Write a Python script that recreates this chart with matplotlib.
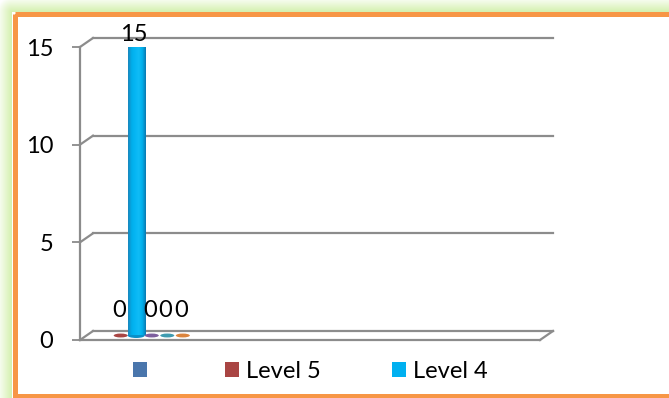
import numpy as np
import matplotlib.pyplot as plt
from matplotlib.patches import Rectangle, Ellipse
from matplotlib.colors import LinearSegmentedColormap
from matplotlib.transforms import ScaledTranslation, IdentityTransform
from matplotlib.lines import Line2D

plt.rcParams['font.family'] = ['Lato', 'DejaVu Sans']

# one category, six series; only the first three are listed in the legend
series = ['', 'Level 5', 'Level 4', 'Level 3', 'Level 2', 'Level 1']
values = [None, 0, 15, 0, 0, 0]
colors = ['#4A76AC', '#A94543', '#00B0F0', '#7E5F9E', '#3F9BB0', '#DB843D']
legend_count = 3
yticks = [0, 5, 10, 15]

W, H = 669, 398
fig = plt.figure(figsize=(W / 100, H / 100), dpi=100)

# pale green glow around the orange frame
bg = fig.add_axes([0, 0, 1, 1])
bg.set_xlim(0, W)
bg.set_ylim(H, 0)
bg.axis('off')
cc, rr = np.meshgrid(np.arange(W) + 0.5, np.arange(H) + 0.5)
d = np.hypot(np.clip(12 - cc, 0, None), np.clip(12 - rr, 0, None))
glow = np.where((cc < 12) | (rr < 12), np.clip(1 - d / 15, 0, 1), 0.0)
green = np.array([0.83, 0.94, 0.68])
img = (1 - glow[..., None]) + green * glow[..., None]
bg.imshow(img, extent=[0, W, H, 0], aspect='auto', interpolation='bilinear')
bg.add_patch(Rectangle((14.5, 14), 700, 382, fill=False, ec='#F79646', lw=3.6))

# plot area: front plane of the 3-D chart
ax = fig.add_axes([80 / W, 58 / H, 460 / W, 293 / H])
ax.set_xlim(-0.5, 3.5)
ax.set_ylim(0, 15)
ax.patch.set_visible(False)
for s in ax.spines.values():
    s.set_visible(False)
ax.set_xticks([])
ax.set_yticks(yticks)
ax.tick_params(axis='y', length=5.8, width=1.3, color='#8a8a8a', pad=13.5, labelsize=17)

back = ax.transData + ScaledTranslation(0.13, 0.09, fig.dpi_scale_trans)
mid = ax.transData + ScaledTranslation(0.065, 0.045, fig.dpi_scale_trans)
grid = '#8c8c8c'

for v in yticks:
    ax.plot([-0.5, 3.5], [v, v], color=grid, lw=1.6, transform=back, clip_on=False)
    p0 = ax.transData.transform((-0.5, v))
    p1 = back.transform((-0.5, v))
    ax.add_line(Line2D([p0[0], p1[0]], [p0[1], p1[1]], color=grid, lw=1.6,
                       transform=IdentityTransform(), clip_on=False))

# side wall edge and floor
ax.plot([-0.5, -0.5], [0, 15], color=grid, lw=1.6, clip_on=False)
ax.plot([-0.5, 3.5], [0, 0], color=grid, lw=1.6, clip_on=False)
q0 = ax.transData.transform((3.5, 0))
q1 = back.transform((3.5, 0))
ax.add_line(Line2D([q0[0], q1[0]], [q0[1], q1[1]], color=grid, lw=1.6,
                   transform=IdentityTransform(), clip_on=False))

cyl = LinearSegmentedColormap.from_list(
    'cyl', ['#1a86bd', '#00aeea', '#06b6f4', '#10bcf6', '#00b0ec', '#0a7ab2'])
spacing = 0.135
bar_w = 0.15
cap_h = 15 / 293 * 5

for i, (v, c) in enumerate(zip(values, colors)):
    if v is None:
        continue
    x = (i - 2.5) * spacing
    if v > 0:
        ax.add_patch(Ellipse((x, 0), bar_w, cap_h, fc='#0a90c8', ec='none',
                             transform=mid, zorder=3))
        grad = np.linspace(0, 1, 64)[None, :]
        ax.imshow(grad, extent=[x - bar_w / 2, x + bar_w / 2, 0, v], cmap=cyl,
                  aspect='auto', transform=mid, zorder=3)
        ax.add_patch(Ellipse((x, v), bar_w, cap_h, fc='#5ccff7', ec='#1aa0d6',
                             lw=0.5, transform=mid, zorder=4))
        dy = 8
    else:
        ax.add_patch(Ellipse((x, 0), 0.122, 0.2, fc=c, ec='none',
                             transform=mid, zorder=3))
        dy = 25
    ax.annotate(f'{v}', (x, v), xycoords=mid, xytext=(-2, dy),
                textcoords='offset pixels', ha='center', va='center',
                fontsize=17, zorder=5)

handles = [Rectangle((0, 0), 1, 1, fc=c, ec='none') for c in colors[:legend_count]]
fig.legend(handles, series[:legend_count], loc='center left',
           bbox_to_anchor=(133 / W, 1 - 371 / H), ncol=legend_count, frameon=False,
           fontsize=17, handlelength=0.6, handleheight=0.6, handletextpad=0.3,
           columnspacing=3.0, borderpad=0, borderaxespad=0)

fig.savefig('out.png', dpi=100)
